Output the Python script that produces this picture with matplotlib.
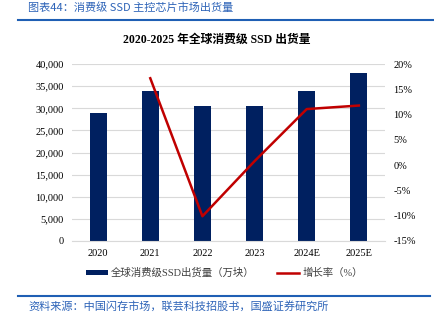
import matplotlib.pyplot as plt
from matplotlib.ticker import FuncFormatter

years = ["2020", "2021", "2022", "2023", "2024E", "2025E"]
shipments = [29000, 33900, 30500, 30600, 34000, 38000]
growth = [None, 17.2, -10.1, 0.8, 11.1, 11.8]

plt.rcParams['font.family'] = ['Liberation Serif', 'Noto Sans CJK SC']

fig = plt.figure(figsize=(4.34, 3.27), dpi=100)
ax = fig.add_axes([0.166, 0.263, 0.721, 0.541])

x = list(range(len(years)))
bars = ax.bar(x, shipments, width=0.33, color="#002060", zorder=2)
ax.set_ylim(0, 40000)
ax.set_yticks(range(0, 40001, 5000))
ax.yaxis.set_major_formatter(FuncFormatter(lambda v, p: "{:,.0f}".format(v)))
ax.grid(axis="y", color="#d9d9d9", linewidth=0.8, zorder=0)
ax.set_xticks(x)
ax.set_xticklabels(years)
ax.set_xlim(-0.5, len(years) - 0.5)
for s in ax.spines.values():
    s.set_visible(False)
ax.spines["bottom"].set_visible(True)
ax.spines["bottom"].set_color("#d9d9d9")
ax.tick_params(length=0, labelsize=7.5, pad=6)

ax2 = ax.twinx()
gx = [i for i, g in zip(x, growth) if g is not None]
gy = [g for g in growth if g is not None]
line, = ax2.plot(gx, gy, color="#c00000", linewidth=1.8)
ax2.set_ylim(-15, 20)
ax2.set_yticks(range(-15, 21, 5))
ax2.yaxis.set_major_formatter(FuncFormatter(lambda v, p: "{:.0f}%".format(v)))
for s in ax2.spines.values():
    s.set_visible(False)
ax2.tick_params(length=0, labelsize=7.5, pad=6)

leg = fig.legend([bars, line], ["全球消费级SSD出货量（万块）", "增长率（%）"],
                 loc="center", bbox_to_anchor=(0.517, 0.165), ncol=2, frameon=False,
                 fontsize=7.5, handlelength=2.1, handletextpad=0.3,
                 columnspacing=2.2, handleheight=0.45)
for t in leg.get_texts():
    t.set_color("#404040")

fig.text(0.5, 0.878, "2020-2025 年全球消费级 SSD 出货量", ha="center", va="center",
         fontsize=8.5, fontweight="bold")

blue = "#2e64b8"
sans = ['Noto Sans CJK SC', 'DejaVu Sans']
fig.text(0.065, 0.978, "图表44：消费级 SSD 主控芯片市场出货量", ha="left", va="center",
         fontsize=8, color=blue, style="italic", family=sans)
fig.add_artist(plt.Line2D([0.041, 1.0], [0.939, 0.939], color="#1f5fb4", linewidth=1.5))
fig.add_artist(plt.Line2D([0.041, 0.99], [0.095, 0.095], color="#1f5fb4", linewidth=1.5))
fig.text(0.065, 0.062, "资料来源：中国闪存市场，联芸科技招股书，国盛证券研究所", ha="left",
         va="center", fontsize=8, color=blue, style="italic", family=sans)

fig.savefig("out.png", dpi=100)
